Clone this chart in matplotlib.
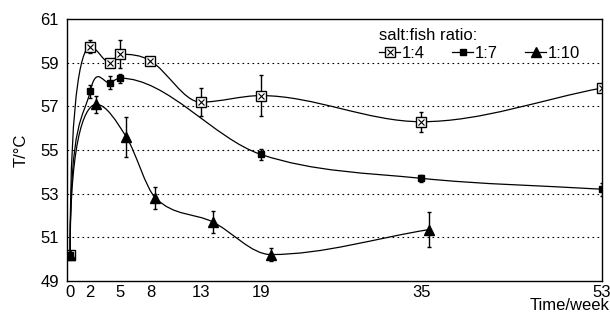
import numpy as np
import matplotlib
matplotlib.use("Agg")
import matplotlib.pyplot as plt
from matplotlib.path import Path
from matplotlib.patches import PathPatch

# salt:fish 1:4
weeks_14 = [0, 2, 4, 5, 8, 13, 19, 35, 53]
temp_14 = [50.2, 59.75, 59.0, 59.4, 59.1, 57.2, 57.5, 56.3, 57.85]
err_14 = [0, 0.3, 0.15, 0.65, 0.1, 0.65, 0.95, 0.45, 0.15]

# salt:fish 1:7
weeks_17 = [0, 2, 4, 5, 19, 35, 53]
temp_17 = [50.2, 57.7, 58.1, 58.3, 54.8, 53.7, 53.2]
err_17 = [0, 0.3, 0.3, 0.2, 0.25, 0.15, 0.3]

# salt:fish 1:10
weeks_110 = [0, 2.6, 5.6, 8.5, 14.2, 20, 35.8]
temp_110 = [50.2, 57.1, 55.6, 52.8, 51.7, 50.2, 51.35]
err_110 = [0, 0.4, 0.9, 0.5, 0.5, 0.3, 0.8]

xticks = [0, 2, 5, 8, 13, 19, 35, 53]
yticks = [49, 51, 53, 55, 57, 59, 61]

plt.rcParams['font.family'] = ['Liberation Sans', 'DejaVu Sans']
plt.rcParams['font.size'] = 12


def smooth_path(xs, ys):
    # cubic Hermite curve through the points (drawn as Bezier segments),
    # flat at local extremes, vertical start like the original plot
    x = np.asarray(xs, float)
    y = np.asarray(ys, float)
    n = len(x)
    m = np.zeros(n)
    for i in range(1, n - 1):
        if (y[i] - y[i - 1]) * (y[i + 1] - y[i]) > 0:
            m[i] = (y[i + 1] - y[i - 1]) / (x[i + 1] - x[i - 1])
    m[-1] = (y[-1] - y[-2]) / (x[-1] - x[-2])
    verts = [(x[0], y[0])]
    codes = [Path.MOVETO]
    for i in range(n - 1):
        h = x[i + 1] - x[i]
        if i == 0:
            c1 = (x[0], y[0] + 0.85 * (y[1] - y[0]))
        else:
            c1 = (x[i] + h / 3, y[i] + m[i] * h / 3)
        c2 = (x[i + 1] - h / 3, y[i + 1] - m[i + 1] * h / 3)
        verts += [c1, c2, (x[i + 1], y[i + 1])]
        codes += [Path.CURVE4] * 3
    return Path(verts, codes)


def draw_series(ax, xs, ys, err):
    patch = PathPatch(smooth_path(xs, ys), facecolor='none', edgecolor='black', lw=0.9)
    ax.add_patch(patch)
    ax.errorbar(xs, ys, yerr=err, fmt='none', ecolor='black', elinewidth=1.0, capsize=1.5)


fig, ax = plt.subplots(figsize=(6.10, 3.23), dpi=100)
fig.subplots_adjust(left=0.11, right=0.987, top=0.94, bottom=0.131)

draw_series(ax, weeks_14, temp_14, err_14)
draw_series(ax, weeks_17, temp_17, err_17)
draw_series(ax, weeks_110, temp_110, err_110)

sq, = ax.plot(weeks_14, temp_14, ls='none', marker='s', ms=7, mfc='white', mec='black', mew=1.0)
sqx, = ax.plot(weeks_14, temp_14, ls='none', marker='x', ms=4.5, mec='black', mew=0.8)
ln14, = ax.plot([], [], color='black', lw=0.9)
m17, = ax.plot(weeks_17, temp_17, ls='none', marker='s', ms=4.5, color='black')
ln17, = ax.plot([], [], color='black', lw=0.9)
m110, = ax.plot(weeks_110, temp_110, ls='none', marker='^', ms=6.5, color='black')
ln110, = ax.plot([], [], color='black', lw=0.9)

ax.set_xlim(-0.3, 53)
ax.set_ylim(49, 61)
ax.set_xticks(xticks)
ax.set_xticklabels([str(t) for t in xticks])
ax.set_yticks(yticks)
ax.tick_params(axis='x', length=0, labelsize=12, pad=3)
ax.tick_params(axis='y', length=0, labelsize=12, pad=6)
for y in yticks[1:-1]:
    ax.axhline(y, color='black', lw=0.8, ls=(0, (1.5, 3)), zorder=0)
for s in ax.spines.values():
    s.set_linewidth(1.0)

ax.set_ylabel('T/°C', fontsize=12, labelpad=8)
fig.text(1.0, 0.053, 'Time/week', ha='right', va='center', fontsize=12)

leg = ax.legend([(ln14, sq, sqx), (ln17, m17), (ln110, m110)], ['1:4', '1:7', '1:10'],
                ncol=3, loc='upper right', bbox_to_anchor=(0.975, 1.0), frameon=False,
                title='salt:fish ratio:', alignment='left', handlelength=1.3,
                handletextpad=0.1, columnspacing=1.6, borderaxespad=0.1,
                fontsize=12, title_fontsize=12, labelspacing=0.2)

fig.savefig('out.png', dpi=100)
